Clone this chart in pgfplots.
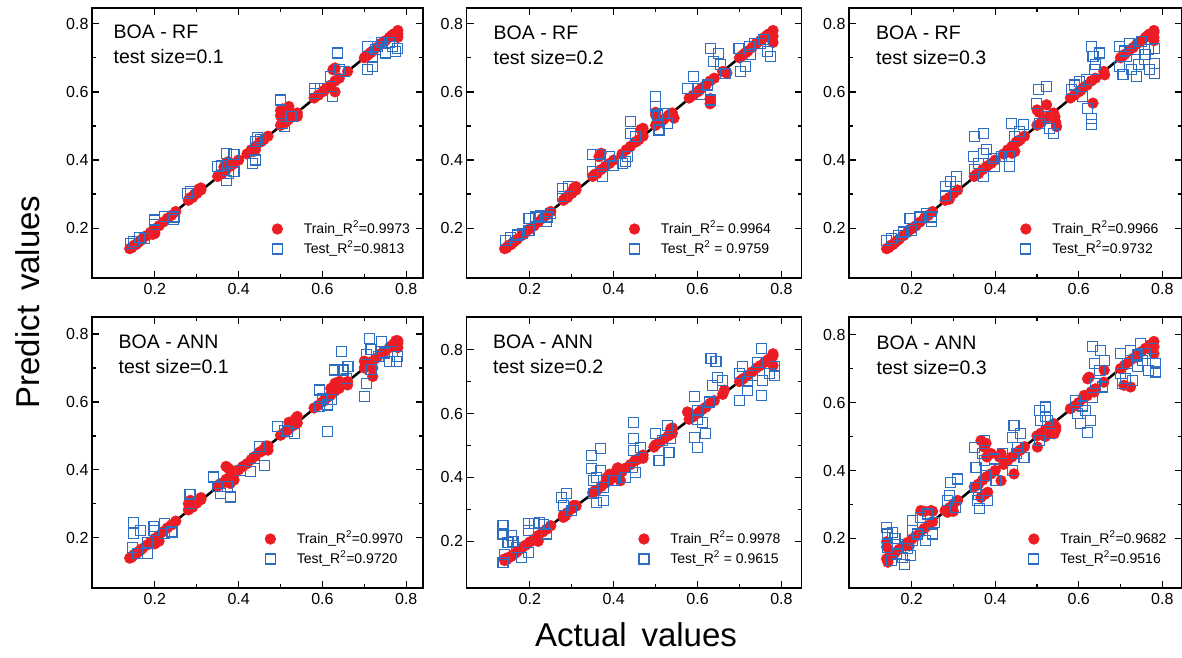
\documentclass[border=0pt]{standalone}
\usepackage{fontspec}
\setmainfont{Liberation Sans}
\usepackage{pgfplots}
\pgfplotsset{compat=1.18}
\usepackage{pgfplotstable}
\definecolor{trainred}{RGB}{236,28,36}
\definecolor{testblue}{RGB}{45,110,195}

% common train points lying near the diagonal
\pgfplotstableread{
x y
0.14 0.14
0.145 0.143
0.15 0.15
0.16 0.158
0.17 0.168
0.18 0.178
0.19 0.188
0.2 0.198
0.21 0.207
0.22 0.218
0.23 0.229
0.24 0.238
0.25 0.249
0.28 0.282
0.29 0.29
0.30 0.302
0.31 0.312
0.35 0.352
0.36 0.36
0.37 0.372
0.38 0.382
0.39 0.39
0.40 0.40
0.42 0.418
0.43 0.43
0.44 0.44
0.45 0.452
0.46 0.46
0.47 0.47
0.50 0.502
0.51 0.51
0.52 0.52
0.53 0.53
0.54 0.538
0.58 0.582
0.59 0.59
0.60 0.60
0.61 0.612
0.62 0.62
0.63 0.632
0.64 0.64
0.66 0.66
0.70 0.70
0.71 0.71
0.72 0.72
0.73 0.73
0.74 0.742
0.75 0.75
0.76 0.76
0.77 0.77
0.78 0.78
}\basetrain

\tikzset{lab/.style={anchor=north west, align=left, inner sep=0pt, font=\fontsize{19.5}{25}\selectfont}}
\newcommand{\lgap}{\hspace*{10pt}}

\pgfplotsset{
 panel/.style={
  scale only axis,
  anchor=south west,
  axis line style={line width=1.8pt},
  every tick/.style={line width=1.3pt, black},
  major tick length=7pt, minor tick length=4pt,
  tick align=inside,
  xtick={0.2,0.4,0.6,0.8}, ytick={0.2,0.4,0.6,0.8},
  minor tick num=1,
  /pgf/number format/fixed,
  /pgf/number format/fixed zerofill,
  /pgf/number format/precision=1,
  /pgf/number format/assume math mode=true,
  ticklabel style={font=\fontsize{16}{18}\selectfont},
  xticklabel style={yshift=-2pt},
  legend style={draw=none, fill=none, inner sep=0pt, outer sep=0pt,
    font=\fontsize{14}{16}\selectfont, at={(1,0)}, anchor=south east, yshift=19pt,
    column sep=7pt,
    nodes={inner xsep=4pt, inner ysep=3pt, text height=11pt, text depth=3pt}},
  legend cell align=left,
 },
 trainstyle/.style={only marks, mark=*, mark size=5.4pt, color=trainred, mark options={draw=trainred, fill=trainred}},
 teststyle/.style={only marks, mark=square, mark size=5pt, color=testblue, mark options={line width=1.1pt, fill=none}},
 diag/.style={black, line width=2.5pt, no marks},
 col1/.style={xmin=0.05, xmax=0.84, width=331pt},
 col2/.style={xmin=0.049, xmax=0.848, width=335pt},
 col3/.style={xmin=0.05, xmax=0.846, width=332.5pt},
 row1/.style={height=270pt, ymin=0.054, ymax=0.846},
 row2/.style={height=271pt, ymin=0.052, ymax=0.85},
}

\begin{document}
\begin{tikzpicture}
\path[use as bounding box] (0pt,0pt) rectangle (1182pt,657pt);

% ---------------- Panel 1: BOA - RF, 0.1
\begin{axis}[panel, col1, row1, at={(92pt,379pt)}, legend style={xshift=-9pt}]
\addplot[trainstyle] table {\basetrain};
\addlegendentry{\lgap Train\_R\textsuperscript{2}=0.9973}
\addplot[trainstyle, forget plot] coordinates {(0.2,0.185)(0.195,0.182)(0.31,0.318)(0.305,0.315)(0.365,0.38)(0.37,0.39)(0.375,0.395)(0.44,0.43)(0.435,0.425)(0.5,0.53)(0.5,0.545)(0.505,0.55)(0.51,0.54)(0.52,0.557)(0.53,0.53)(0.54,0.528)(0.63,0.6)(0.63,0.67)(0.625,0.665)(0.78,0.76)(0.78,0.77)(0.775,0.765)(0.155,0.152)(0.165,0.163)(0.285,0.29)(0.295,0.3)(0.355,0.358)(0.455,0.455)(0.515,0.515)(0.535,0.535)(0.605,0.605)(0.705,0.705)(0.715,0.715)(0.765,0.765)};
\addplot[teststyle] coordinates {(0.141,0.155)(0.15,0.16)(0.163,0.173)(0.175,0.17)(0.2,0.224)(0.2,0.21)(0.222,0.235)(0.246,0.233)(0.245,0.225)(0.278,0.302)(0.286,0.307)(0.35,0.38)(0.36,0.385)(0.37,0.418)(0.37,0.341)(0.375,0.36)(0.389,0.415)(0.389,0.366)(0.433,0.39)(0.44,0.40)(0.445,0.467)(0.453,0.459)(0.44,0.455)(0.5,0.576)(0.505,0.508)(0.509,0.498)(0.525,0.527)(0.58,0.611)(0.58,0.596)(0.596,0.611)(0.624,0.586)(0.62,0.645)(0.636,0.714)(0.64,0.665)(0.653,0.66)(0.708,0.733)(0.708,0.665)(0.72,0.675)(0.727,0.724)(0.731,0.733)(0.72,0.70)(0.751,0.714)(0.767,0.733)(0.775,0.719)(0.779,0.728)(0.74,0.745)(0.76,0.745)};
\addlegendentry{\lgap Test\_R\textsuperscript{2}=0.9813}
\addplot[diag, forget plot] coordinates {(0.14,0.14)(0.78,0.78)};
\node[lab] at (rel axis cs:0,1) [xshift=21.5pt, yshift=-17pt] {BOA - RF\\test size=0.1};
\end{axis}

% ---------------- Panel 2: BOA - RF, 0.2
\begin{axis}[panel, col2, row1, at={(466.5pt,379pt)}, legend style={xshift=-26.5pt}]
\addplot[trainstyle] table {\basetrain};
\addlegendentry{\lgap Train\_R\textsuperscript{2}= 0.9964}
\addplot[trainstyle, forget plot] coordinates {(0.31,0.322)(0.305,0.318)(0.37,0.42)(0.365,0.41)(0.47,0.493)(0.465,0.49)(0.5,0.532)(0.5,0.54)(0.544,0.523)(0.54,0.53)(0.63,0.565)(0.63,0.58)(0.67,0.655)(0.78,0.763)(0.78,0.745)(0.775,0.77)(0.155,0.152)(0.165,0.163)(0.285,0.29)(0.295,0.3)(0.355,0.358)(0.455,0.455)(0.515,0.515)(0.535,0.535)(0.605,0.605)(0.705,0.705)(0.715,0.715)(0.765,0.765)};
\addplot[teststyle] coordinates {(0.142,0.165)(0.154,0.173)(0.17,0.18)(0.182,0.184)(0.198,0.228)(0.198,0.194)(0.214,0.233)(0.225,0.238)(0.241,0.233)(0.249,0.243)(0.24,0.22)(0.277,0.317)(0.277,0.292)(0.293,0.322)(0.349,0.415)(0.349,0.366)(0.369,0.415)(0.369,0.39)(0.373,0.351)(0.389,0.41)(0.4,0.385)(0.42,0.39)(0.428,0.395)(0.432,0.41)(0.44,0.513)(0.44,0.478)(0.452,0.469)(0.5,0.586)(0.5,0.557)(0.504,0.532)(0.508,0.488)(0.52,0.537)(0.528,0.508)(0.575,0.611)(0.591,0.645)(0.603,0.611)(0.607,0.591)(0.623,0.62)(0.631,0.728)(0.631,0.576)(0.639,0.689)(0.651,0.713)(0.655,0.679)(0.667,0.655)(0.699,0.728)(0.703,0.66)(0.715,0.675)(0.723,0.733)(0.727,0.709)(0.735,0.743)(0.751,0.743)(0.767,0.719)(0.774,0.704)(0.758,0.753)};
\addlegendentry{\lgap Test\_R\textsuperscript{2} = 0.9759}
\addplot[diag, forget plot] coordinates {(0.14,0.14)(0.78,0.78)};
\node[lab] at (rel axis cs:0,1) [xshift=27pt, yshift=-18pt] {BOA - RF\\test size=0.2};
\end{axis}

% ---------------- Panel 3: BOA - RF, 0.3
\begin{axis}[panel, col3, row1, at={(849pt,379pt)}, legend style={xshift=-19pt}]
\addplot[trainstyle] table {\basetrain};
\addlegendentry{\lgap Train\_R\textsuperscript{2}=0.9966}
\addplot[trainstyle, forget plot] coordinates {(0.523,0.562)(0.5,0.547)(0.505,0.54)(0.543,0.527)(0.547,0.498)(0.545,0.51)(0.447,0.425)(0.44,0.42)(0.634,0.567)(0.662,0.65)(0.78,0.775)(0.78,0.75)(0.78,0.76)(0.2,0.2)(0.29,0.285)(0.155,0.152)(0.165,0.163)(0.355,0.358)(0.455,0.455)(0.605,0.605)(0.705,0.705)(0.765,0.765)};
\addplot[teststyle] coordinates {(0.14,0.165)(0.152,0.17)(0.168,0.179)(0.18,0.189)(0.196,0.228)(0.2,0.194)(0.22,0.233)(0.236,0.243)(0.248,0.233)(0.248,0.219)(0.28,0.322)(0.28,0.297)(0.292,0.336)(0.308,0.351)(0.308,0.322)(0.351,0.469)(0.371,0.478)(0.347,0.41)(0.371,0.42)(0.371,0.351)(0.351,0.371)(0.395,0.405)(0.399,0.38)(0.415,0.41)(0.435,0.41)(0.435,0.38)(0.439,0.508)(0.447,0.469)(0.459,0.483)(0.467,0.503)(0.503,0.606)(0.523,0.616)(0.499,0.567)(0.507,0.508)(0.523,0.527)(0.53,0.493)(0.539,0.478)(0.582,0.606)(0.602,0.63)(0.61,0.586)(0.618,0.635)(0.63,0.733)(0.634,0.704)(0.638,0.665)(0.622,0.552)(0.63,0.523)(0.63,0.503)(0.65,0.714)(0.698,0.733)(0.698,0.675)(0.706,0.65)(0.714,0.704)(0.722,0.743)(0.726,0.665)(0.734,0.724)(0.742,0.679)(0.75,0.748)(0.758,0.694)(0.766,0.724)(0.77,0.665)(0.782,0.684)(0.782,0.728)(0.782,0.655)(0.738,0.645)(0.36,0.39)(0.38,0.43)(0.59,0.62)(0.64,0.68)(0.71,0.72)(0.76,0.71)};
\addlegendentry{\lgap Test\_R\textsuperscript{2}=0.9732}
\addplot[diag, forget plot] coordinates {(0.14,0.14)(0.78,0.78)};
\node[lab] at (rel axis cs:0,1) [xshift=27pt, yshift=-18pt] {BOA - RF\\test size=0.3};
\end{axis}

% ---------------- Panel 4: BOA - ANN, 0.1
\begin{axis}[panel, col1, row2, at={(92pt,69pt)}, legend style={xshift=-16pt}]
\addplot[trainstyle] table {\basetrain};
\addlegendentry{\lgap Train\_R\textsuperscript{2}=0.9970}
\addplot[trainstyle, forget plot] coordinates {(0.2,0.182)(0.2,0.19)(0.21,0.19)(0.28,0.30)(0.285,0.31)(0.29,0.295)(0.31,0.318)(0.37,0.41)(0.375,0.405)(0.38,0.4)(0.38,0.36)(0.389,0.37)(0.41,0.41)(0.47,0.458)(0.465,0.47)(0.52,0.54)(0.54,0.557)(0.535,0.55)(0.62,0.64)(0.63,0.655)(0.64,0.66)(0.66,0.65)(0.7,0.72)(0.72,0.675)(0.72,0.7)(0.78,0.773)(0.78,0.76)(0.775,0.78)(0.155,0.152)(0.165,0.163)(0.355,0.358)(0.455,0.455)(0.515,0.515)(0.605,0.605)(0.705,0.705)(0.765,0.765)};
\addplot[teststyle] coordinates {(0.15,0.244)(0.15,0.212)(0.146,0.172)(0.166,0.222)(0.182,0.187)(0.182,0.153)(0.198,0.222)(0.198,0.232)(0.222,0.241)(0.222,0.212)(0.241,0.217)(0.158,0.153)(0.284,0.328)(0.285,0.3)(0.341,0.379)(0.349,0.35)(0.357,0.33)(0.381,0.32)(0.373,0.35)(0.405,0.399)(0.429,0.394)(0.449,0.468)(0.461,0.414)(0.437,0.433)(0.493,0.527)(0.509,0.517)(0.517,0.512)(0.533,0.507)(0.593,0.635)(0.593,0.586)(0.601,0.611)(0.613,0.591)(0.613,0.512)(0.621,0.606)(0.629,0.694)(0.645,0.749)(0.649,0.694)(0.657,0.67)(0.661,0.704)(0.7,0.616)(0.705,0.655)(0.705,0.739)(0.712,0.788)(0.716,0.754)(0.733,0.734)(0.741,0.778)(0.749,0.744)(0.761,0.719)(0.768,0.749)(0.78,0.734)(0.776,0.719)(0.716,0.695)};
\addlegendentry{\lgap Test\_R\textsuperscript{2}=0.9720}
\addplot[diag, forget plot] coordinates {(0.14,0.14)(0.78,0.78)};
\node[lab] at (rel axis cs:0,1) [xshift=26.5pt, yshift=-18pt] {BOA - ANN\\test size=0.1};
\end{axis}

% ---------------- Panel 5: BOA - ANN, 0.2
\begin{axis}[panel, col2, row2, ymin=0.054, ymax=0.902, at={(466.5pt,69pt)}, legend style={xshift=-17pt}]
\addplot[trainstyle] table {\basetrain};
\addlegendentry{\lgap Train\_R\textsuperscript{2}= 0.9978}
\addplot[trainstyle, forget plot] coordinates {(0.28,0.275)(0.285,0.28)(0.304,0.312)(0.31,0.31)(0.384,0.4)(0.39,0.41)(0.408,0.427)(0.41,0.43)(0.416,0.39)(0.468,0.464)(0.47,0.46)(0.496,0.495)(0.536,0.552)(0.54,0.555)(0.576,0.605)(0.664,0.673)(0.78,0.787)(0.78,0.75)(0.775,0.77)(0.22,0.2)(0.14,0.145)(0.155,0.152)(0.165,0.163)(0.355,0.358)(0.455,0.455)(0.605,0.605)(0.705,0.705)(0.765,0.765)};
\addplot[teststyle] coordinates {(0.136,0.249)(0.136,0.223)(0.148,0.197)(0.14,0.16)(0.136,0.134)(0.156,0.218)(0.168,0.181)(0.18,0.15)(0.196,0.166)(0.196,0.234)(0.196,0.255)(0.212,0.255)(0.224,0.26)(0.24,0.223)(0.232,0.254)(0.276,0.338)(0.288,0.349)(0.28,0.312)(0.3,0.296)(0.348,0.469)(0.368,0.49)(0.348,0.427)(0.352,0.39)(0.352,0.349)(0.36,0.322)(0.376,0.328)(0.376,0.369)(0.368,0.422)(0.4,0.39)(0.428,0.401)(0.444,0.432)(0.452,0.416)(0.448,0.573)(0.448,0.521)(0.448,0.484)(0.464,0.495)(0.5,0.537)(0.508,0.453)(0.516,0.516)(0.532,0.479)(0.528,0.563)(0.536,0.521)(0.592,0.652)(0.592,0.526)(0.6,0.61)(0.6,0.495)(0.612,0.573)(0.62,0.537)(0.628,0.636)(0.632,0.772)(0.644,0.762)(0.636,0.688)(0.648,0.714)(0.66,0.704)(0.7,0.641)(0.7,0.725)(0.708,0.746)(0.72,0.673)(0.732,0.72)(0.744,0.761)(0.752,0.803)(0.752,0.657)(0.772,0.725)(0.784,0.746)(0.784,0.72)(0.756,0.704)(0.16,0.2)(0.36,0.4)(0.6,0.58)(0.72,0.7)};
\addlegendentry{\lgap Test\_R\textsuperscript{2} = 0.9615}
\addplot[diag, forget plot] coordinates {(0.14,0.14)(0.78,0.78)};
\node[lab] at (rel axis cs:0,1) [xshift=26.5pt, yshift=-18pt] {BOA - ANN\\test size=0.2};
\end{axis}

% ---------------- Panel 6: BOA - ANN, 0.3
\begin{axis}[panel, col3, row2, ymin=0.054, ymax=0.852, at={(849pt,69pt)}, legend style={xshift=-11pt}]
\addplot[trainstyle] table {\basetrain};
\addlegendentry{\lgap Train\_R\textsuperscript{2}=0.9682}
\addplot[trainstyle, forget plot] coordinates {(0.143,0.13)(0.14,0.19)(0.14,0.175)(0.194,0.178)(0.222,0.282)(0.23,0.28)(0.246,0.282)(0.25,0.28)(0.286,0.277)(0.3,0.28)(0.366,0.488)(0.374,0.469)(0.378,0.48)(0.366,0.321)(0.382,0.336)(0.375,0.33)(0.414,0.449)(0.41,0.44)(0.414,0.37)(0.445,0.39)(0.501,0.469)(0.541,0.508)(0.545,0.528)(0.545,0.52)(0.613,0.621)(0.637,0.631)(0.621,0.67)(0.625,0.675)(0.661,0.695)(0.708,0.651)(0.724,0.646)(0.78,0.744)(0.78,0.764)(0.775,0.76)(0.38,0.44)(0.39,0.45)(0.52,0.5)(0.64,0.64)};
\addplot[teststyle] coordinates {(0.139,0.233)(0.143,0.213)(0.143,0.174)(0.155,0.218)(0.163,0.154)(0.166,0.183)(0.178,0.144)(0.182,0.124)(0.198,0.149)(0.202,0.193)(0.202,0.252)(0.202,0.223)(0.214,0.213)(0.222,0.262)(0.226,0.233)(0.234,0.193)(0.238,0.272)(0.25,0.213)(0.254,0.247)(0.151,0.134)(0.286,0.311)(0.294,0.365)(0.31,0.375)(0.306,0.292)(0.29,0.326)(0.35,0.469)(0.354,0.41)(0.354,0.351)(0.358,0.311)(0.362,0.287)(0.374,0.488)(0.374,0.429)(0.378,0.385)(0.382,0.311)(0.398,0.434)(0.402,0.37)(0.418,0.449)(0.441,0.498)(0.441,0.4)(0.445,0.533)(0.453,0.469)(0.461,0.508)(0.469,0.439)(0.505,0.577)(0.505,0.488)(0.521,0.587)(0.525,0.547)(0.533,0.508)(0.509,0.547)(0.593,0.606)(0.597,0.567)(0.605,0.538)(0.617,0.577)(0.621,0.513)(0.629,0.547)(0.633,0.616)(0.633,0.764)(0.637,0.714)(0.649,0.695)(0.653,0.754)(0.661,0.724)(0.641,0.655)(0.657,0.646)(0.7,0.744)(0.7,0.685)(0.704,0.655)(0.716,0.714)(0.724,0.754)(0.728,0.665)(0.74,0.705)(0.748,0.773)(0.752,0.724)(0.76,0.744)(0.768,0.695)(0.776,0.759)(0.784,0.714)(0.784,0.69)(0.712,0.67)(0.16,0.2)(0.19,0.17)(0.36,0.33)(0.37,0.45)(0.45,0.45)(0.52,0.56)(0.61,0.59)(0.74,0.74)};
\addlegendentry{\lgap Test\_R\textsuperscript{2}=0.9516}
\addplot[diag, forget plot] coordinates {(0.14,0.14)(0.78,0.78)};
\node[lab] at (rel axis cs:0,1) [xshift=27.5pt, yshift=-19pt] {BOA - ANN\\test size=0.3};
\end{axis}

% ---------------- global labels
\node[rotate=90, font=\fontsize{33}{36}\selectfont] at (28pt,355pt) {Predict\hspace{0.45em}values};
\node[font=\fontsize{33}{36}\selectfont] at (636pt,22pt) {Actual\hspace{0.45em}values};
\end{tikzpicture}
\end{document}
